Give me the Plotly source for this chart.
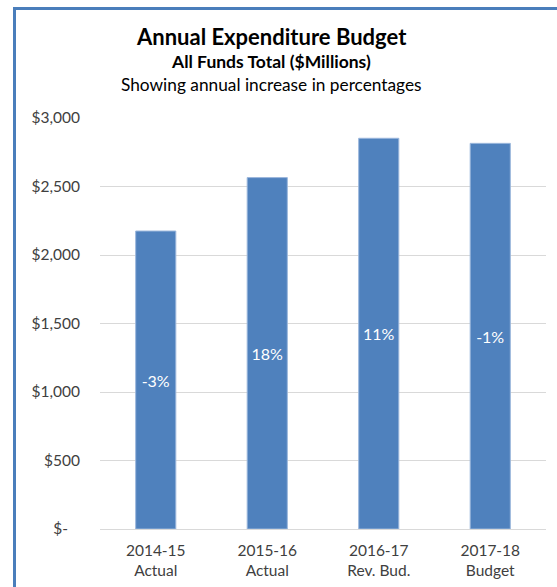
import plotly.graph_objects as go

# Budget figures ($ millions) by fiscal year
categories = ["2014-15<br>Actual", "2015-16<br>Actual", "2016-17<br>Rev. Bud.", "2017-18<br>Budget"]
totals = [2175, 2565, 2852, 2815]
pct_change = ["-3%", "18%", "11%", "-1%"]

tick_vals = [0, 500, 1000, 1500, 2000, 2500, 3000]
tick_text = ["$-\u00a0\u00a0\u00a0", "$500", "$1,000", "$1,500", "$2,000", "$2,500", "$3,000"]

FONT = "Lato"
BLUE = "#4F81BD"

fig = go.Figure(
    go.Bar(
        x=categories,
        y=totals,
        text=pct_change,
        textposition="inside",
        insidetextanchor="middle",
        textangle=0,
        textfont=dict(family=FONT, size=16, color="white"),
        marker=dict(color=BLUE, line=dict(color="#9bb7dc", width=1)),
        width=0.36,
        hoverinfo="x+y",
    )
)

L, R, T, B = 100, 11, 118, 58
W, H = 557, 587
pw, ph = W - L - R, H - T - B


def px_x(px):
    return (px - L) / pw


def px_y(py):
    return 1 - (py - T) / ph


# Chart frame (left and top edges)
fig.add_shape(type="rect", xref="paper", yref="paper",
              x0=px_x(14.5), x1=px_x(700), y0=px_y(8.5), y1=px_y(700),
              line=dict(color="#4a7ebb", width=3), fillcolor="rgba(0,0,0,0)", layer="below")

titles = [
    ("<b>Annual Expenditure Budget</b>", 37, 22),
    ("<b>All Funds Total ($Millions)</b>", 62, 17.5),
    ("Showing annual increase in percentages", 84, 17.3),
]
for txt, yc, sz in titles:
    fig.add_annotation(text=txt, xref="paper", yref="paper",
                       x=px_x(271), y=px_y(yc), xanchor="center", yanchor="middle",
                       showarrow=False, font=dict(family=FONT, size=sz, color="#000000"))

fig.update_layout(
    width=W, height=H,
    margin=dict(l=L, r=R, t=T, b=B, pad=0, autoexpand=False),
    paper_bgcolor="white", plot_bgcolor="white",
    showlegend=False,
    bargap=0.64,
    font=dict(family=FONT, color="#595959"),
    xaxis=dict(showgrid=False, showline=False, ticks="", automargin=False,
               tickfont=dict(family=FONT, size=15.5, color="#404040"),
               ticklabelstandoff=10),
    yaxis=dict(range=[0, 3000], tickvals=tick_vals, ticktext=tick_text,
               showgrid=True, gridcolor="#d9d9d9", gridwidth=1,
               zeroline=True, zerolinecolor="#d9d9d9", zerolinewidth=1,
               showline=False, ticks="", ticklabelstandoff=19, automargin=False,
               tickfont=dict(family=FONT, size=15.5, color="#404040")),
)

fig.write_html("out.html")
